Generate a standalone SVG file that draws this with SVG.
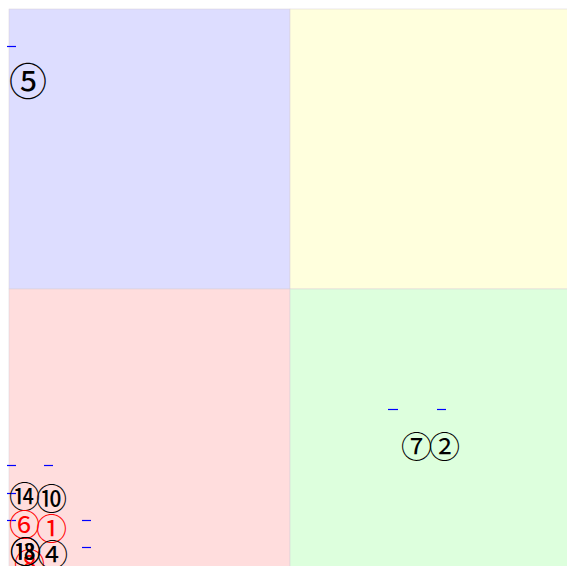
<svg xmlns="http://www.w3.org/2000/svg" width="567" height="566" viewBox="0 0 567 566">
<style>
.q{stroke:#d8d0d8;stroke-width:0.5}
.lbl{font-family:"Noto Sans CJK JP","Liberation Serif",serif;font-size:31px;fill:#000}
.red{fill:#ff0000}
.big{font-size:38px}
.tick{stroke:#0000ff;stroke-width:1.2}
</style>
<rect width="567" height="566" fill="#ffffff"/>
<g id="quadrants">
<rect id="q-blue" class="q" x="9" y="9" width="281" height="280" fill="#ddddff"/>
<rect id="q-yellow" class="q" x="290" y="9" width="281" height="280" fill="#ffffdd"/>
<rect id="q-pink" class="q" x="9" y="289" width="281" height="281" fill="#ffdddd"/>
<rect id="q-green" class="q" x="290" y="289" width="281" height="281" fill="#ddffdd"/>
</g>
<g id="connectors">
<line class="tick" x1="7" y1="46.5" x2="16" y2="46.5"/>
<line class="tick" x1="388" y1="409.5" x2="398" y2="409.5"/>
<line class="tick" x1="437" y1="409.5" x2="446" y2="409.5"/>
<line class="tick" x1="7" y1="465.5" x2="16" y2="465.5"/>
<line class="tick" x1="44" y1="465.5" x2="53" y2="465.5"/>
<line class="tick" x1="7" y1="493.5" x2="16" y2="493.5"/>
<line class="tick" x1="7" y1="520.5" x2="16" y2="520.5"/>
<line class="tick" x1="82" y1="520.5" x2="91" y2="520.5"/>
<line class="tick" x1="82" y1="547.5" x2="91" y2="547.5"/>
</g>
<g id="n5"><text class="lbl big" x="9" y="95">⑤</text></g>
<g id="n7"><text class="lbl" x="401" y="458">⑦</text></g>
<g id="n2"><text class="lbl" x="429" y="458">②</text></g>
<g id="n14"><text class="lbl" x="9" y="508">⑭</text></g>
<g id="n10"><text class="lbl" x="36" y="510">⑩</text></g>
<g id="n8"><text class="lbl red" x="14" y="575">⑧</text></g>
<g id="n6"><text class="lbl red" x="9" y="536">⑥</text></g>
<g id="n1"><text class="lbl red" x="36" y="540">①</text></g>
<g id="n18"><text class="lbl" x="10" y="563">⑱</text></g>
<g id="n13"><text class="lbl" x="10" y="563">⑬</text></g>
<g id="n4"><text class="lbl" x="37" y="566">④</text></g>
</svg>
